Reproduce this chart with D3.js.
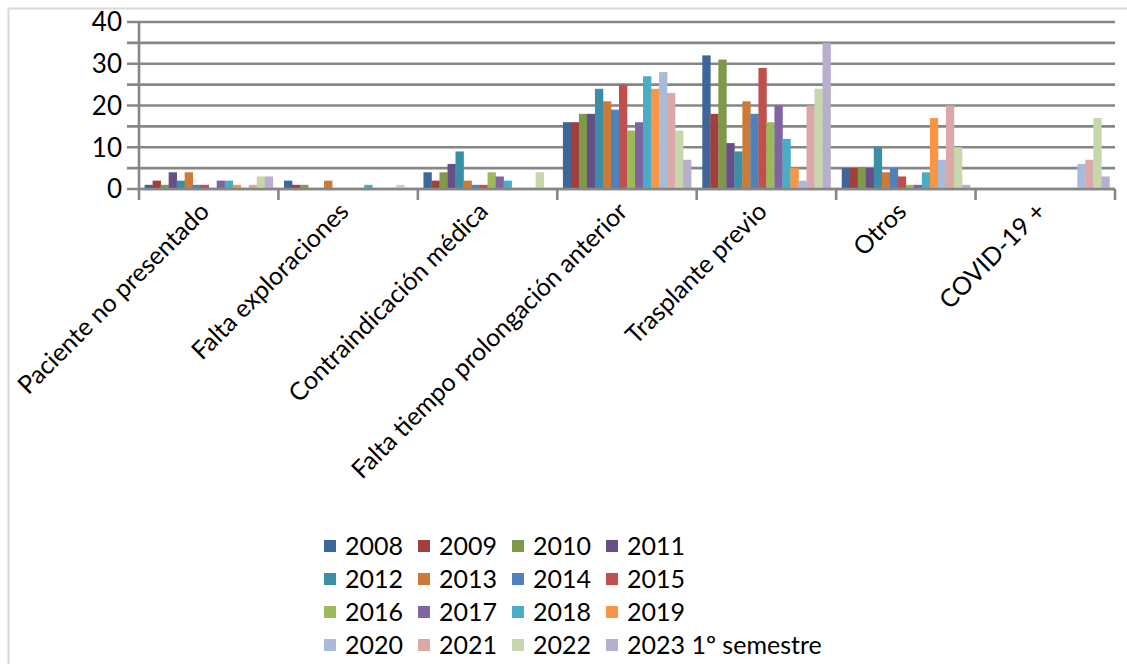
<!DOCTYPE html>
<html>
<head>
<meta charset="utf-8">
<script src="https://cdn.jsdelivr.net/npm/d3@7"></script>
<style>
  html, body { margin: 0; padding: 0; background: #fff; }
  svg { display: block; }
  text { font-family: "Lato", "Open Sans", sans-serif; fill: #000; }
</style>
</head>
<body>
<svg id="chart" width="1127" height="664"></svg>
<script>
// Motivos, años y valores por serie
const categories = [
  "Paciente no presentado",
  "Falta exploraciones",
  "Contraindicación médica",
  "Falta tiempo prolongación anterior",
  "Trasplante previo",
  "Otros",
  "COVID-19 +"
];
const years = ["2008","2009","2010","2011","2012","2013","2014","2015",
               "2016","2017","2018","2019","2020","2021","2022","2023 1º semestre"];
const colors = ["#3E6699","#A03F3C","#7E9A48","#664F87","#3A8EA5","#CC7A36",
                "#4F81BD","#C0504D","#9BBB59","#8064A2","#4BACC6","#F79646",
                "#AABBDA","#DAA8A7","#C7D7AC","#B8AFCC"];
// una lista por año, un valor por categoría
const v2008 = [1, 2, 4, 16, 32, 5, 0];
const v2009 = [2, 1, 2, 16, 18, 5, 0];
const v2010 = [1, 1, 4, 18, 31, 5, 0];
const v2011 = [4, 0, 6, 18, 11, 5, 0];
const v2012 = [2, 0, 9, 24, 9, 10, 0];
const v2013 = [4, 2, 2, 21, 21, 4, 0];
const v2014 = [1, 0, 1, 19, 18, 5, 0];
const v2015 = [1, 0, 1, 25, 29, 3, 0];
const v2016 = [0, 0, 4, 14, 16, 1, 0];
const v2017 = [2, 0, 3, 16, 20, 1, 0];
const v2018 = [2, 1, 2, 27, 12, 4, 0];
const v2019 = [1, 0, 0, 24, 5, 17, 0];
const v2020 = [0, 0, 0, 28, 2, 7, 6];
const v2021 = [1, 0, 0, 23, 20, 20, 7];
const v2022 = [3, 1, 4, 14, 24, 10, 17];
const v2023 = [3, 0, 0, 7, 35, 1, 3];
const values = [v2008,v2009,v2010,v2011,v2012,v2013,v2014,v2015,
                v2016,v2017,v2018,v2019,v2020,v2021,v2022,v2023];
const yTicks = [0, 10, 20, 30, 40];
const yGrid = [0, 5, 10, 15, 20, 25, 30, 35, 40];

const svg = d3.select("#chart");
const gridColor = "#868686";

// marco exterior
svg.append("rect")
  .attr("x", 8.5).attr("y", 8.5)
  .attr("width", 1140).attr("height", 680)
  .attr("fill", "none").attr("stroke", "#D9D9D9").attr("stroke-width", 2);

const plotL = 139, plotR = 1115, plotT = 22, plotB = 189;

const y = d3.scaleLinear().domain([0, 40]).range([plotB, plotT]);
const x0 = d3.scaleBand().domain(categories).range([plotL, plotR]).padding(0);
const x1 = d3.scaleBand().domain(years).range([0, x0.bandwidth()])
  .paddingInner(0).paddingOuter(0.7);

// líneas de división horizontales (con marca a la izquierda)
svg.append("g").selectAll("line").data(yGrid).join("line")
  .attr("x1", plotL - 12).attr("x2", plotR)
  .attr("y1", d => y(d)).attr("y2", d => y(d))
  .attr("stroke", gridColor).attr("stroke-width", 2.6);

// etiquetas del eje Y
svg.append("g").selectAll("text").data(yTicks).join("text")
  .attr("x", 122).attr("y", d => y(d))
  .attr("dy", "0.36em")
  .attr("text-anchor", "end")
  .style("font-size", "26px")
  .text(d => d);

// barras
const groups = svg.append("g").selectAll("g").data(years).join("g")
  .attr("fill", (d, i) => colors[i]);
groups.selectAll("rect")
  .data((d, i) => categories.map((c, j) => ({ year: d, cat: c, v: values[i][j] })))
  .join("rect")
  .attr("x", d => x0(d.cat) + x1(d.year))
  .attr("width", x1.bandwidth() + 0.3)
  .attr("y", d => y(d.v))
  .attr("height", d => y(0) - y(d.v));

// eje X: línea y marcas entre categorías
svg.append("line")
  .attr("x1", plotL).attr("x2", plotR)
  .attr("y1", plotB).attr("y2", plotB)
  .attr("stroke", gridColor).attr("stroke-width", 2.6);
svg.append("line")
  .attr("x1", plotL).attr("x2", plotL)
  .attr("y1", plotT - 1).attr("y2", plotB)
  .attr("stroke", gridColor).attr("stroke-width", 2.6);
const bounds = categories.map(c => x0(c)).concat([plotR]);
svg.append("g").selectAll("line").data(bounds).join("line")
  .attr("x1", d => d).attr("x2", d => d)
  .attr("y1", plotB).attr("y2", plotB + 11)
  .attr("stroke", gridColor).attr("stroke-width", 2.6);

// etiquetas de categoría giradas
svg.append("g").selectAll("text").data(categories).join("text")
  .attr("transform", d => `translate(${x0(d) + x0.bandwidth() / 2 + 2},${plotB + 24}) rotate(-45)`)
  .attr("text-anchor", "end")
  .style("font-size", "25px")
  .text(d => d);

// leyenda 4 x 4
const legend = svg.append("g");
const colX = [324, 418, 512, 606];
const rowY = [546, 579, 612, 645];
years.forEach((yr, i) => {
  const cx = colX[i % 4], cy = rowY[Math.floor(i / 4)];
  legend.append("rect")
    .attr("x", cx).attr("y", cy - 6)
    .attr("width", 12).attr("height", 12)
    .attr("fill", colors[i]);
  legend.append("text")
    .attr("x", cx + 21).attr("y", cy)
    .attr("dy", "0.36em")
    .style("font-size", "25px")
    .text(yr);
});
</script>
</body>
</html>
